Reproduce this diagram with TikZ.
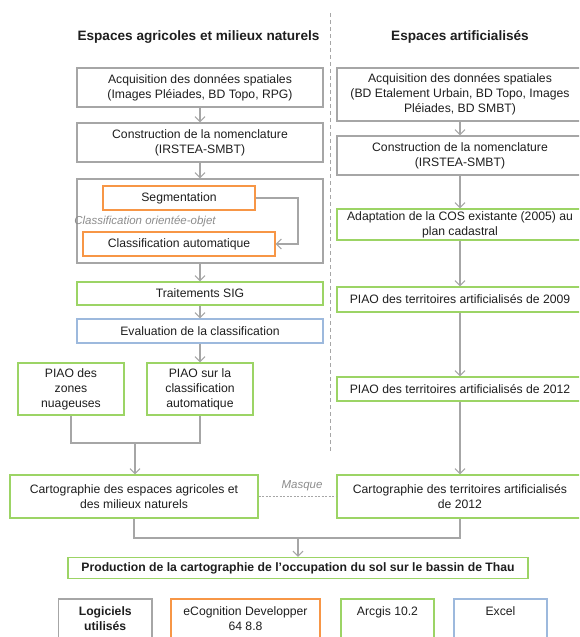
\documentclass[tikz,border=0pt]{standalone}
\usepackage{fontspec}
\setmainfont{Liberation Sans}
\usetikzlibrary{arrows.meta}
\definecolor{bgray}{HTML}{A6A6A6}
\definecolor{borange}{HTML}{F79646}
\definecolor{bgreen}{HTML}{9CD465}
\definecolor{bblue}{HTML}{9DB9DD}
\definecolor{txt}{HTML}{1E1E1E}
\definecolor{itgray}{HTML}{8C8C8C}
\tikzset{
  box/.style={draw=bgray, line width=1.3pt, rectangle, align=center, inner sep=0pt,
    font=\fontsize{12.2}{15}\selectfont, text=txt},
  gbox/.style={box, draw=bgreen},
  obox/.style={box, draw=borange},
  blbox/.style={box, draw=bblue},
  arr/.style={draw=bgray, line width=1.2pt, -{Straight Barb[length=5pt,width=10pt,line width=1.1pt]}},
  ln/.style={draw=bgray, line width=1.2pt},
  ttl/.style={font=\fontsize{13.6}{16}\selectfont\bfseries, text=txt},
  itl/.style={font=\fontsize{11.5}{13}\selectfont\itshape, text=itgray, inner sep=0pt},
  lgd/.style={font=\fontsize{12.2}{15}\selectfont}
}
\begin{document}
\begin{tikzpicture}[x=1pt,y=-1pt]
\useasboundingbox (0,0) rectangle (579,637);
\clip (0,0) rectangle (579,637);
% titles
\node[ttl] (tl) at (198.5,37) {Espaces agricoles et milieux  naturels};
\node[ttl] (tr) at (460,37) {Espaces artificialisés};
% divider
\coordinate (dv1) at (330,13);
\coordinate (dv2) at (330,452);
\draw[draw=bgray, line width=1pt, dash pattern=on 4pt off 3pt] (dv1) -- (dv2);
% left column
\node[box, minimum width=246pt, minimum height=39pt] (lacq) at (200,87.5)
  {Acquisition des données spatiales\\(Images Pléiades, BD Topo, RPG)};
\node[box, minimum width=246pt, minimum height=39pt] (lnom) at (200,142.5)
  {Construction de la nomenclature\\(IRSTEA-SMBT)};
\node[box, minimum width=246pt, minimum height=84pt] (lbig) at (200,221) {};
\node[obox, minimum width=152pt, minimum height=24pt] (lseg) at (179,198) {Segmentation};
\node[obox, minimum width=192pt, minimum height=24pt] (lcla) at (179,244) {Classification automatique};
\node[itl] (lobj) at (145,221) {Classification orientée-objet};
\node[gbox, minimum width=246pt, minimum height=23pt] (lsig) at (200,293.5) {Traitements SIG};
\node[blbox, minimum width=246pt, minimum height=24pt] (leval) at (200,331) {Evaluation de la classification};
\node[gbox, minimum width=106pt, minimum height=52pt] (lz) at (71,389) {PIAO des\\zones\\nuageuses};
\node[gbox, minimum width=106pt, minimum height=52pt] (ls) at (200,389) {PIAO sur la\\classification\\automatique};
\node[gbox, minimum width=248pt, minimum height=43pt] (lcart) at (134,496.5)
  {Cartographie des espaces agricoles et\\des milieux naturels};
% right column
\node[box, minimum width=246pt, minimum height=53pt] (racq) at (460,94.5)
  {Acquisition des données spatiales\\(BD Etalement Urbain, BD Topo, Images\\Pléiades, BD SMBT)};
\node[box, minimum width=246pt, minimum height=39pt] (rnom) at (460,155.5)
  {Construction de la nomenclature\\(IRSTEA-SMBT)};
\node[gbox, minimum width=246pt, minimum height=31pt] (rada) at (460,224.5)
  {Adaptation de la COS existante (2005) au\\plan cadastral};
\node[gbox, minimum width=246pt, minimum height=25pt] (r09) at (460,299.5)
  {PIAO des territoires artificialisés de 2009};
\node[gbox, minimum width=246pt, minimum height=24pt] (r12) at (460,389)
  {PIAO des territoires artificialisés de 2012};
\node[gbox, minimum width=246pt, minimum height=43pt] (rcart) at (460,496.5)
  {Cartographie des territoires artificialisés\\de 2012};
% production
\node[gbox, minimum width=460pt, minimum height=21pt, font=\fontsize{12.2}{15}\selectfont\bfseries] (prod) at (298,568)
  {Production de la cartographie de l’occupation du sol sur le bassin de Thau};
% legend boxes
\node[box, minimum width=93.5pt, minimum height=50pt, font=\fontsize{12.2}{15}\selectfont\bfseries] (lg) at (105.25,624) {Logiciels\\utilisés\\[-4pt]};
\node[obox, minimum width=149pt, minimum height=50pt, lgd] (le) at (245.5,624) {eCognition Developper\\64 8.8\\[-4pt]};
\node[gbox, minimum width=93pt, minimum height=50pt, lgd] (la) at (387.5,624) {Arcgis 10.2\\\strut\\[-4pt]};
\node[blbox, minimum width=93pt, minimum height=50pt, lgd] (lx) at (500.5,624) {Excel\\\strut\\[-4pt]};
% left connectors
\draw[arr] (lacq) -- (lnom);
\draw[arr] (lnom) -- (lbig);
\coordinate (segc) at (298,198);
\draw[arr] (lseg.east) -- (segc) |- (lcla.east);
\draw[arr] (lbig) -- (lsig);
\draw[arr] (lsig) -- (leval);
\draw[arr] (leval.south) -- (ls.north);
\coordinate (j1) at (135,443);
\draw[ln] (lz.south) -- (lz.south |- j1) -- (ls.south |- j1) -- (ls.south);
\draw[arr] (j1) -- (lcart.north -| j1);
% right connectors
\draw[arr] (racq) -- (rnom);
\draw[arr] (rnom) -- (rada);
\draw[arr] (rada) -- (r09);
\draw[arr] (r09) -- (r12);
\draw[arr] (r12) -- (rcart);
% masque
\draw[draw=bgray, line width=0.9pt, dash pattern=on 2pt off 1.5pt] (lcart.east) -- (rcart.west);
\node[itl] (msq) at (302,486) {Masque};
% bottom merge
\coordinate (j2) at (298,538);
\draw[ln] (lcart.south) -- (lcart.south |- j2) -- (rcart.south |- j2) -- (rcart.south);
\draw[arr] (j2) -- (prod.north);
\end{tikzpicture}
\end{document}
